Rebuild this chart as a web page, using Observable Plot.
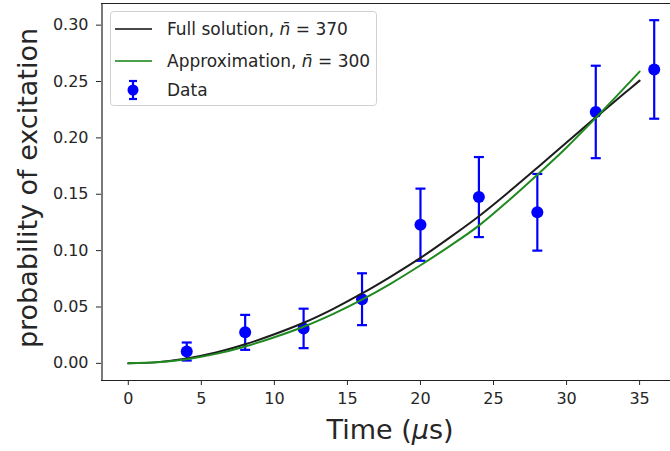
<!DOCTYPE html>
<html>
<head>
<meta charset="utf-8">
<script src="https://cdn.jsdelivr.net/npm/d3@7"></script>
<script src="https://cdn.jsdelivr.net/npm/@observablehq/plot@0.6"></script>
<style>
  html, body { margin: 0; padding: 0; background: white; overflow: hidden; }
</style>
</head>
<body>
<div id="chart"></div>
<script>
// ---- data ----
const dataTime = [4, 8, 12, 16, 20, 24, 28, 32, 36];
const dataProb = [0.0105, 0.0275, 0.031, 0.0569, 0.123, 0.1475, 0.134, 0.223, 0.2607];
const dataErr  = [0.008, 0.0155, 0.0175, 0.023, 0.032, 0.0355, 0.034, 0.041, 0.0437];

const curveTime = [0, 2, 4, 6, 8, 10, 12, 14, 16, 18, 20, 22, 24, 26, 28, 30, 32, 34, 35];
const fullProb  = [0, 0.0011, 0.0043, 0.0096, 0.0169, 0.0258, 0.0360, 0.0482, 0.0620, 0.0772, 0.0935, 0.1115, 0.1305, 0.1515, 0.1735, 0.1960, 0.2182, 0.2400, 0.2508];
const approxProb = [0, 0.0009, 0.0037, 0.0084, 0.0150, 0.0232, 0.0325, 0.0437, 0.0565, 0.0710, 0.0870, 0.1040, 0.1222, 0.1440, 0.1673, 0.1915, 0.2178, 0.2450, 0.2588];

const xTicks = [0, 5, 10, 15, 20, 25, 30, 35];
const yTicks = [0, 0.05, 0.10, 0.15, 0.20, 0.25, 0.30];
const xDomain = [-1.8, 37.8];
const yDomain = [-0.0152, 0.3192];

const xLabelParts = ["Time (", "μ", "s)"];
const yLabel = "probability of excitation";
const legendNames = ["Full solution, ", "Approximation, ", "Data"];
const legendNbar = [370, 300];

const colFull = "#1c1c1c";
const colApprox = "#1f8a1f";
const colData = "#0000ff";

// ---- tables ----
const points = dataTime.map((t, i) => ({t, p: dataProb[i], lo: dataProb[i] - dataErr[i], hi: dataProb[i] + dataErr[i]}));
const full = curveTime.map((t, i) => ({t, p: fullProb[i]}));
const approx = curveTime.map((t, i) => ({t, p: approxProb[i]}));

const capSymbol = { draw(ctx) { ctx.moveTo(-5, 0); ctx.lineTo(5, 0); } };

const chart = Plot.plot({
  width: 670,
  height: 451,
  marginLeft: 101,
  marginRight: 0,
  marginTop: 3,
  marginBottom: 71,
  style: { fontFamily: "DejaVu Sans", fontSize: "16px", color: "#262626", background: "white", overflow: "hidden" },
  x: { domain: xDomain, range: [101.5, 680] },
  y: { domain: yDomain },
  marks: [
    Plot.ruleX(points, { x: "t", y1: "lo", y2: "hi", stroke: colData, strokeWidth: 2.2 }),
    Plot.dot(points, { x: "t", y: "lo", symbol: capSymbol, stroke: colData, strokeWidth: 2.2 }),
    Plot.dot(points, { x: "t", y: "hi", symbol: capSymbol, stroke: colData, strokeWidth: 2.2 }),
    Plot.dot(points, { x: "t", y: "p", r: 6, fill: colData, stroke: "none" }),
    Plot.line(full, { x: "t", y: "p", stroke: colFull, strokeWidth: 2, curve: "catmull-rom" }),
    Plot.line(approx, { x: "t", y: "p", stroke: colApprox, strokeWidth: 2, curve: "catmull-rom" }),
    Plot.axisX({ ticks: xTicks, tickSize: 5, tickPadding: 7, label: null, fontSize: 16 }),
    Plot.axisY({ ticks: yTicks, tickSize: 5, tickPadding: 8, label: null, tickFormat: d3.format(".2f"), fontSize: 16 }),
    Plot.ruleX([xDomain[0]], { stroke: "#222", strokeWidth: 1.2 }),
    Plot.ruleY(yDomain, { stroke: "#222", strokeWidth: 1.2 })
  ]
});
document.getElementById("chart").appendChild(chart);

// ---- axis labels and legend ----
const svg = d3.select(chart);
const xl = svg.append("text")
  .attr("x", 390).attr("y", 439).attr("text-anchor", "middle")
  .attr("font-family", "DejaVu Sans").attr("font-size", 27).attr("fill", "#262626");
xl.append("tspan").text(xLabelParts[0]);
xl.append("tspan").attr("font-style", "italic").text(xLabelParts[1]);
xl.append("tspan").text(xLabelParts[2]);

svg.append("text")
  .attr("transform", "translate(37,188) rotate(-90)")
  .attr("text-anchor", "middle")
  .attr("font-family", "DejaVu Sans").attr("font-size", 27).attr("fill", "#262626")
  .text(yLabel);

const lg = svg.append("g").attr("font-family", "DejaVu Sans").attr("font-size", 17)
  .attr("fill", "#262626").attr("text-anchor", "start");
lg.append("rect").attr("x", 110.5).attr("y", 11.5).attr("width", 266).attr("height", 94).attr("rx", 3)
  .attr("fill", "white").attr("fill-opacity", 0.8).attr("stroke", "#d0d0d0");
const rowsY = [29, 61, 90];
[colFull, colApprox].forEach((c, i) => {
  lg.append("line").attr("x1", 115).attr("x2", 152).attr("y1", rowsY[i]).attr("y2", rowsY[i])
    .attr("stroke", c).attr("stroke-width", 2.2).attr("stroke-opacity", 0.8);
  const t = lg.append("text").attr("x", 167).attr("y", rowsY[i] + 6);
  t.append("tspan").text(legendNames[i]);
  t.append("tspan").attr("font-style", "italic").text("n\u0304");
  t.append("tspan").text(" = " + legendNbar[i]);
});
lg.append("line").attr("x1", 133).attr("x2", 133).attr("y1", rowsY[2] - 9).attr("y2", rowsY[2] + 9).attr("stroke", colData).attr("stroke-width", 2.2);
lg.append("line").attr("x1", 129).attr("x2", 137).attr("y1", rowsY[2] - 9).attr("y2", rowsY[2] - 9).attr("stroke", colData).attr("stroke-width", 2.2);
lg.append("line").attr("x1", 129).attr("x2", 137).attr("y1", rowsY[2] + 9).attr("y2", rowsY[2] + 9).attr("stroke", colData).attr("stroke-width", 2.2);
lg.append("circle").attr("cx", 133).attr("cy", rowsY[2]).attr("r", 5.5).attr("fill", colData);
lg.append("text").attr("x", 167).attr("y", rowsY[2] + 6).text(legendNames[2]);
</script>
</body>
</html>
